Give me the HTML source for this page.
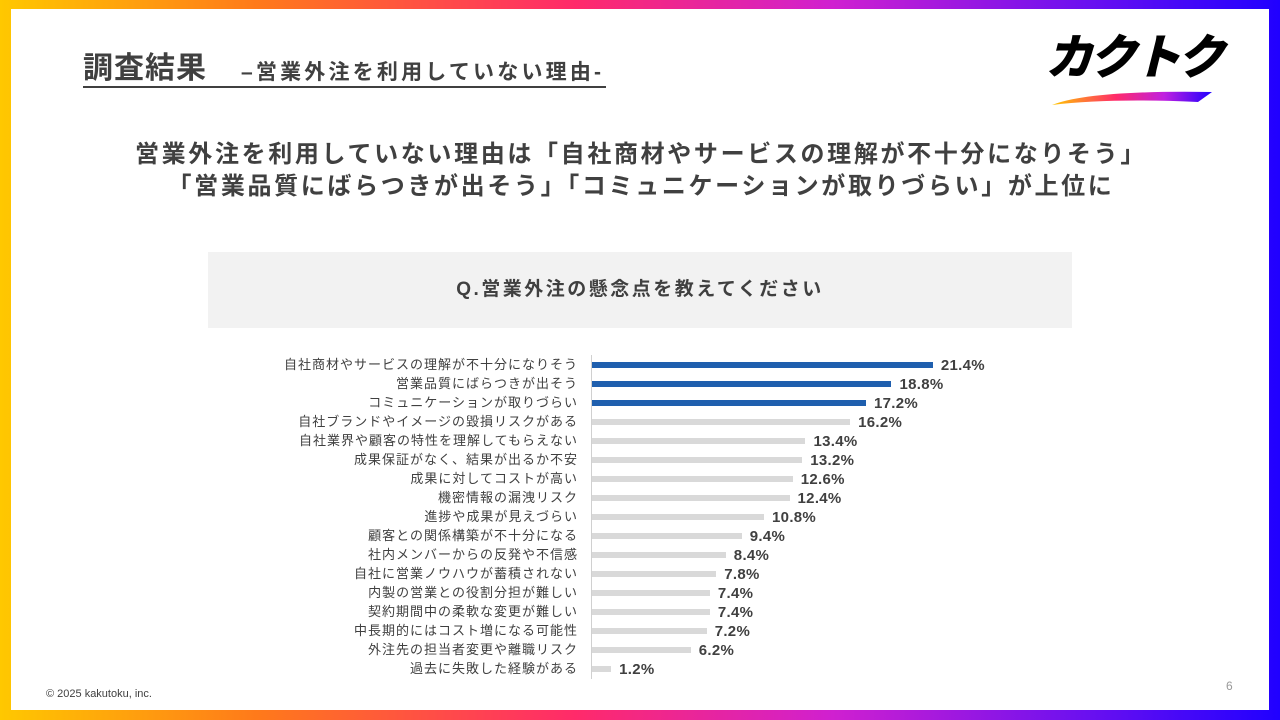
<!DOCTYPE html>
<html><head><meta charset="utf-8"><style>
*{margin:0;padding:0;box-sizing:border-box}
body{width:1280px;height:720px;position:relative;overflow:hidden;font-family:"Liberation Sans","Noto Sans CJK JP",sans-serif;color:#404040;
background:linear-gradient(90deg,#ffc800 0%,#ff7a1a 20%,#ff2a6a 45%,#d020d0 65%,#6a10f0 85%,#2000ff 100%)}
.inner{position:absolute;left:11px;top:9px;width:1258px;height:701px;background:#fff}
.abs{position:absolute;white-space:nowrap}
.lbl{position:absolute;right:702px;font-size:13px;letter-spacing:1px;color:#404040;line-height:19px}
.bar{position:absolute;left:592px;height:6px}
.val{position:absolute;font-size:15px;letter-spacing:0.3px;font-weight:bold;color:#404040;line-height:19px}
</style></head><body>
<div class="inner"></div>
<div class="abs" style="left:83px;top:53px;border-bottom:2px solid #404040;width:523px;height:35px;display:flex;align-items:flex-end">
<span style="font-size:30px;font-weight:bold;letter-spacing:1px;line-height:34px">調査結果</span><span style="font-size:21px;font-weight:bold;margin-left:34px;letter-spacing:3.2px;line-height:26px">–営業外注を利用していない理由-</span></div>
<div class="abs" style="left:1045px;top:32px;font-size:48px;font-weight:900;font-style:italic;color:#000;letter-spacing:-4px;line-height:54px">カクトク</div>
<svg class="abs" style="left:1050px;top:88px" width="165" height="20"><defs><linearGradient id="g"><stop offset="0" stop-color="#ffc800"/><stop offset=".4" stop-color="#ff2a6a"/><stop offset=".7" stop-color="#c020e0"/><stop offset="1" stop-color="#2000ff"/></linearGradient></defs><path d="M2 17 Q40 2 162 4 L148 14 Q60 10 2 17Z" fill="url(#g)"/></svg>
<div class="abs" style="left:14px;width:1254px;top:139px;text-align:center;font-size:24px;letter-spacing:2.65px;font-weight:bold;line-height:32px">営業外注を利用していない理由は「自社商材やサービスの理解が不十分になりそう」<br>「営業品質にばらつきが出そう」「コミュニケーションが取りづらい」が上位に</div>
<div class="abs" style="left:208px;top:252px;width:864px;height:76px;background:#f2f2f2;text-align:center;line-height:76px;font-size:19px;letter-spacing:2.5px;font-weight:bold">Q.営業外注の懸念点を教えてください</div>
<div class="abs" style="left:591px;top:355px;width:1px;height:324px;background:#d0d0d0"></div>
<div id="c"></div>
<div class="abs" style="left:46px;top:688px;font-size:11px;color:#404040">© 2025 kakutoku, inc.</div>
<div class="abs" style="left:1226px;top:679px;font-size:12px;color:#999">6</div>
<script>
var d=[["自社商材やサービスの理解が不十分になりそう",21.4],["営業品質にばらつきが出そう",18.8],["コミュニケーションが取りづらい",17.2],["自社ブランドやイメージの毀損リスクがある",16.2],["自社業界や顧客の特性を理解してもらえない",13.4],["成果保証がなく、結果が出るか不安",13.2],["成果に対してコストが高い",12.6],["機密情報の漏洩リスク",12.4],["進捗や成果が見えづらい",10.8],["顧客との関係構築が不十分になる",9.4],["社内メンバーからの反発や不信感",8.4],["自社に営業ノウハウが蓄積されない",7.8],["内製の営業との役割分担が難しい",7.4],["契約期間中の柔軟な変更が難しい",7.4],["中長期的にはコスト増になる可能性",7.2],["外注先の担当者変更や離職リスク",6.2],["過去に失敗した経験がある",1.2]];
var h="";d.forEach(function(r,i){var y=365+i*19.0,w=r[1]*15.93;
h+='<div class="lbl" style="top:'+(y-10)+'px">'+r[0]+'</div><div class="bar" style="top:'+(y-3)+'px;width:'+w+'px;background:'+(i<3?'#1f5fae':'#d9d9d9')+'"></div><div class="val" style="top:'+(y-9)+'px;left:'+(592+w+8)+'px">'+r[1].toFixed(1)+'%</div>';});
document.getElementById("c").innerHTML=h;
</script>
</body></html>
